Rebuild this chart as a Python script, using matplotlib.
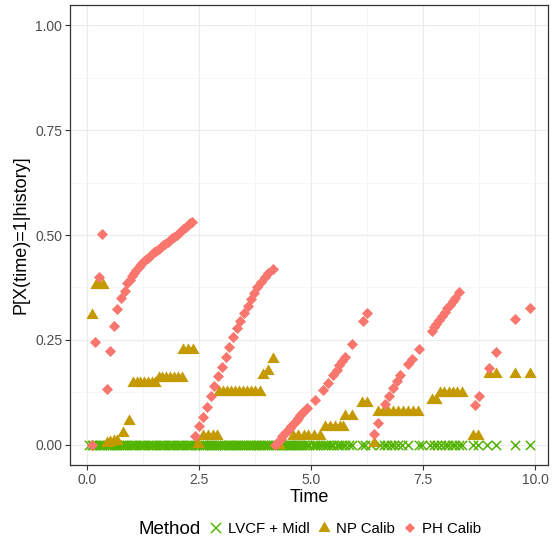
import matplotlib
matplotlib.use("Agg")
import matplotlib.pyplot as plt
from matplotlib.lines import Line2D
from matplotlib.ticker import MultipleLocator

plt.rcParams['font.family'] = ['Liberation Sans', 'DejaVu Sans']

# PH Calib (pink diamonds)
t_ph = [0.10, 0.18, 0.27, 0.34, 0.44, 0.51, 0.61, 0.68, 0.76, 0.85,
        0.90, 0.95, 1.00, 1.05, 1.10, 1.15, 1.20, 1.25, 1.30, 1.35,
        1.40, 1.45, 1.50, 1.55, 1.60, 1.65, 1.70, 1.75, 1.80, 1.85,
        1.90, 1.95, 2.00, 2.05, 2.10, 2.15, 2.20, 2.25, 2.30, 2.35,
        2.41, 2.51, 2.60, 2.67, 2.76, 2.84, 2.92, 3.01, 3.10, 3.17,
        3.25, 3.34, 3.42, 3.50, 3.59, 3.66, 3.73, 3.80, 3.88, 3.97,
        4.05, 4.16,
        4.20, 4.24, 4.28, 4.32, 4.36, 4.40, 4.44, 4.48, 4.52, 4.56,
        4.60, 4.64, 4.68, 4.72, 4.76, 4.80, 4.84, 4.90, 5.09, 5.27,
        5.39, 5.50, 5.57, 5.63, 5.69, 5.76, 5.92, 6.17, 6.24,
        6.41, 6.49, 6.65, 6.75, 6.84, 6.91, 6.99, 7.16, 7.25, 7.41,
        7.69, 7.74, 7.80, 7.86, 7.92, 7.98, 8.04, 8.10, 8.16, 8.22, 8.31,
        8.65, 8.74, 8.98, 9.14, 9.55, 9.89]
p_ph = [0.000, 0.246, 0.400, 0.502, 0.133, 0.224, 0.283, 0.324, 0.350, 0.367,
        0.385, 0.393, 0.402, 0.410, 0.417, 0.424, 0.430, 0.436, 0.441, 0.446,
        0.451, 0.455, 0.459, 0.463, 0.467, 0.471, 0.475, 0.479, 0.484, 0.488,
        0.492, 0.496, 0.500, 0.505, 0.510, 0.514, 0.519, 0.523, 0.528, 0.532,
        0.020, 0.046, 0.067, 0.091, 0.117, 0.140, 0.163, 0.186, 0.210, 0.233,
        0.256, 0.278, 0.296, 0.315, 0.332, 0.347, 0.361, 0.375, 0.387, 0.399,
        0.409, 0.418,
        0.000, 0.005, 0.010, 0.015, 0.020, 0.025, 0.030, 0.035, 0.040, 0.045,
        0.050, 0.055, 0.060, 0.065, 0.070, 0.075, 0.080, 0.087, 0.107, 0.131,
        0.147, 0.167, 0.179, 0.190, 0.199, 0.210, 0.240, 0.296, 0.315,
        0.026, 0.052, 0.098, 0.117, 0.135, 0.151, 0.167, 0.192, 0.205, 0.229,
        0.272, 0.280, 0.289, 0.298, 0.307, 0.316, 0.325, 0.333, 0.342, 0.351, 0.364,
        0.094, 0.117, 0.183, 0.222, 0.299, 0.327]

# NP Calib (gold triangles)
t_np = [0.10, 0.20, 0.27, 0.35, 0.44, 0.51, 0.61, 0.68, 0.81, 0.93,
        1.03, 1.11, 1.19, 1.27, 1.35, 1.44, 1.52,
        1.60, 1.68, 1.76, 1.85, 1.94, 2.03, 2.12,
        2.15, 2.26, 2.37, 2.47,
        2.60, 2.71, 2.82, 2.90,
        2.95, 3.04, 3.13, 3.22, 3.31, 3.40, 3.49, 3.58, 3.67, 3.76, 3.86,
        3.93, 4.04, 4.16, 4.28,
        4.60, 4.72, 4.85, 4.94, 5.07, 5.20,
        5.31, 5.42, 5.54, 5.65, 5.72, 5.76, 5.92, 6.13, 6.24, 6.41,
        6.50, 6.61, 6.72, 6.83, 6.94, 7.05, 7.16, 7.27, 7.38,
        7.69, 7.80, 7.88, 7.97, 8.07, 8.17, 8.26, 8.36,
        8.62, 8.73, 8.98, 9.14, 9.55, 9.89]
p_np = [0.310, 0.380, 0.380, 0.380, 0.004, 0.006, 0.008, 0.010, 0.028, 0.056,
        0.148, 0.148, 0.148, 0.148, 0.148, 0.148, 0.148,
        0.159, 0.159, 0.159, 0.159, 0.159, 0.159, 0.159,
        0.226, 0.226, 0.226, 0.002,
        0.020, 0.020, 0.020, 0.020,
        0.127, 0.127, 0.127, 0.127, 0.127, 0.127, 0.127, 0.127, 0.127, 0.127, 0.127,
        0.167, 0.177, 0.205, 0.000,
        0.020, 0.020, 0.020, 0.020, 0.020, 0.020,
        0.042, 0.042, 0.042, 0.042, 0.042, 0.069, 0.069, 0.099, 0.099, 0.004,
        0.079, 0.079, 0.079, 0.079, 0.079, 0.079, 0.079, 0.079, 0.079,
        0.107, 0.107, 0.123, 0.123, 0.123, 0.123, 0.123, 0.123,
        0.021, 0.021, 0.169, 0.169, 0.169, 0.169]

# LVCF + Midl (green crosses, all at zero)
t_lvcf = [0.05, 0.10, 0.14, 0.18, 0.23, 0.27, 0.30, 0.34, 0.39, 0.44,
          0.48, 0.51, 0.56, 0.61, 0.65, 0.68, 0.72, 0.76, 0.80, 0.85,
          0.90, 0.95, 1.00, 1.05, 1.10, 1.15, 1.20, 1.25, 1.30, 1.35,
          1.40, 1.45, 1.50, 1.55, 1.60, 1.65, 1.70, 1.75, 1.80, 1.85,
          1.90, 1.95, 2.00, 2.05, 2.10, 2.15, 2.20, 2.25, 2.30, 2.35,
          2.41, 2.46, 2.51, 2.56, 2.60, 2.64, 2.67, 2.72, 2.76, 2.80,
          2.84, 2.88, 2.92, 2.97, 3.01, 3.06, 3.10, 3.14, 3.17, 3.21,
          3.25, 3.30, 3.34, 3.38, 3.42, 3.46, 3.50, 3.55, 3.59, 3.63,
          3.66, 3.70, 3.73, 3.77, 3.80, 3.84, 3.88, 3.93, 3.97, 4.01,
          4.05, 4.10, 4.16, 4.20, 4.24, 4.28, 4.32, 4.36, 4.40, 4.44,
          4.48, 4.52, 4.56, 4.60, 4.64, 4.68, 4.72, 4.76, 4.80, 4.84,
          4.90, 4.96, 5.04, 5.09, 5.14, 5.20, 5.27, 5.33, 5.39, 5.44,
          5.50, 5.57, 5.63, 5.69, 5.76, 5.84, 5.91, 6.13, 6.21, 6.35,
          6.54, 6.62, 6.70, 6.78, 6.86, 6.94, 7.02, 7.17, 7.40, 7.47,
          7.66, 7.74, 7.82, 7.90, 7.98, 8.06, 8.14, 8.22, 8.30, 8.38,
          8.62, 8.73, 8.92, 9.14, 9.55, 9.89]
p_lvcf = [0.0] * len(t_lvcf)

methods = ["LVCF + Midl", "NP Calib", "PH Calib"]
colors = {"LVCF + Midl": "#53B400", "NP Calib": "#C49A00", "PH Calib": "#F8766D"}

# equilateral triangle centred on its centroid, like R's pch 17
tri = [(-1.0, -0.5774), (1.0, -0.5774), (0.0, 1.1547), (-1.0, -0.5774)]

fig = plt.figure(figsize=(5.52, 5.42), dpi=100)
ax = fig.add_axes([70 / 552, 1 - 465 / 542, 478 / 552, 460 / 542])

ax.scatter(t_lvcf, p_lvcf, marker="x", s=44, linewidths=1.1,
           color=colors["LVCF + Midl"], zorder=3)
ax.scatter(t_np, p_np, marker=tri, s=105, linewidths=0,
           color=colors["NP Calib"], zorder=4)
ax.scatter(t_ph, p_ph, marker="D", s=32, linewidths=0,
           color=colors["PH Calib"], zorder=5)

ax.set_xlim(-0.38, 10.29)
ax.set_ylim(-0.048, 1.048)
ax.xaxis.set_minor_locator(MultipleLocator(1.25))
ax.yaxis.set_minor_locator(MultipleLocator(0.125))
ax.set_xticks([0, 2.5, 5, 7.5, 10])
ax.set_xticklabels(["0.0", "2.5", "5.0", "7.5", "10.0"])
ax.set_yticks([0, 0.25, 0.5, 0.75, 1.0])
ax.set_yticklabels(["0.00", "0.25", "0.50", "0.75", "1.00"])

ax.grid(which="major", color="#EBEBEB", linewidth=0.8, zorder=0)
ax.grid(which="minor", color="#F3F3F3", linewidth=0.5, zorder=0)
ax.set_axisbelow(True)
for sp in ax.spines.values():
    sp.set_color("#333333")
    sp.set_linewidth(0.9)
ax.tick_params(which="major", length=3.5, width=0.8, color="#333333",
               labelsize=10, labelcolor="#4D4D4D", pad=2)
ax.tick_params(which="minor", length=0)

ax.set_xlabel("Time", fontsize=13, labelpad=2)
ax.set_ylabel("P[X(time)=1|history]", fontsize=13, labelpad=4)

handles = [
    Line2D([], [], linestyle="", marker="x", markersize=7.5, markeredgewidth=1.1,
           color=colors["LVCF + Midl"]),
    Line2D([], [], linestyle="", marker=tri, markersize=10, markeredgewidth=0,
           color=colors["NP Calib"]),
    Line2D([], [], linestyle="", marker="D", markersize=5, markeredgewidth=0,
           color=colors["PH Calib"]),
]
fig.text(139 / 552, 1 - 529 / 542, "Method", fontsize=13.5, va="center", ha="left")
fig.legend(handles, methods, loc="center left", ncol=3,
           bbox_to_anchor=(208 / 552, 1 - 529 / 542), frameon=False,
           fontsize=10.8, handlelength=1.0, handletextpad=0.3,
           columnspacing=0.5, borderaxespad=0, borderpad=0)

fig.savefig("out.png", dpi=100)
plt.close(fig)
